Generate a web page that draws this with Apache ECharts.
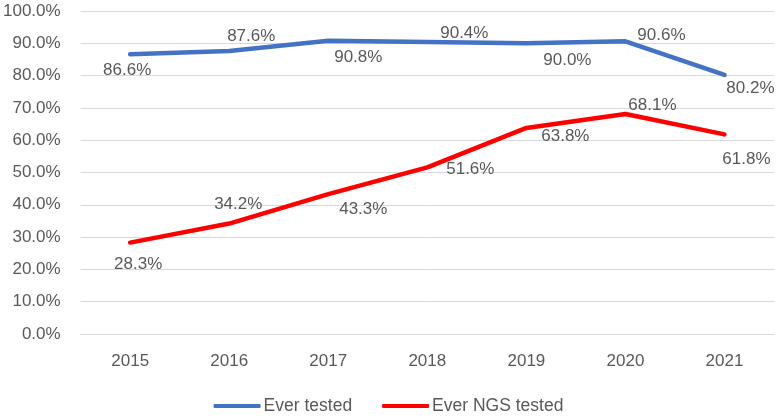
<!DOCTYPE html>
<html><head><meta charset="utf-8">
<script src="https://cdn.jsdelivr.net/npm/echarts@6/dist/echarts.min.js"></script>
<style>html,body{margin:0;padding:0;background:#fff}#c{width:777px;height:419px}</style>
</head><body><div id="c"></div>
<script>
const categories = ['2015','2016','2017','2018','2019','2020','2021'];
const everTested = [86.6, 87.6, 90.8, 90.4, 90.0, 90.6, 80.2];
const everNGSTested = [28.3, 34.2, 43.3, 51.6, 63.8, 68.1, 61.8];
const blueOffsets = [[-3,16],[22,-15],[30,17],[37,-9],[41,17],[36,-6],[26,13]];
const redOffsets = [[8,22],[9,-19],[35,15],[43,2],[39,8],[27,-9],[22,25]];
const txt = '#595959';
const font = "'Liberation Sans', Arial, sans-serif";
function mk(vals, offs){
  return vals.map((v,i)=>({value:v,label:{show:true,position:'inside',offset:offs[i],formatter:v.toFixed(1)+'%',color:txt,fontSize:17,fontFamily:font}}));
}
const chart = echarts.init(document.getElementById('c'));
chart.setOption({
  animation:false,
  grid:{left:80,right:3,top:11,bottom:85,containLabel:false},
  legend:{bottom:-1,left:'center',itemWidth:47,itemHeight:4,itemGap:30,icon:'roundRect',
    textStyle:{color:txt,fontSize:17.5,fontFamily:font,padding:[0,0,0,-2]},
    data:['Ever tested','Ever NGS tested']},
  xAxis:{type:'category',data:categories,boundaryGap:true,
    axisLine:{lineStyle:{color:'#d9d9d9'}},axisTick:{show:false},
    axisLabel:{color:txt,fontSize:17,fontFamily:font,margin:19}},
  yAxis:{type:'value',min:0,max:100,interval:10,
    axisLabel:{color:txt,fontSize:17,fontFamily:font,margin:20,formatter:v=>v.toFixed(1)+'%'},
    splitLine:{lineStyle:{color:'#d9d9d9',width:1}},axisLine:{show:false},axisTick:{show:false}},
  series:[
    {name:'Ever tested',type:'line',data:mk(everTested,blueOffsets),showSymbol:true,symbol:'circle',symbolSize:0.1,
      lineStyle:{color:'#4472C4',width:4.5,cap:'round',join:'round'},itemStyle:{color:'#4472C4'}},
    {name:'Ever NGS tested',type:'line',data:mk(everNGSTested,redOffsets),showSymbol:true,symbol:'circle',symbolSize:0.1,
      lineStyle:{color:'#FF0000',width:4.5,cap:'round',join:'round'},itemStyle:{color:'#FF0000'}}
  ]
});
</script></body></html>
